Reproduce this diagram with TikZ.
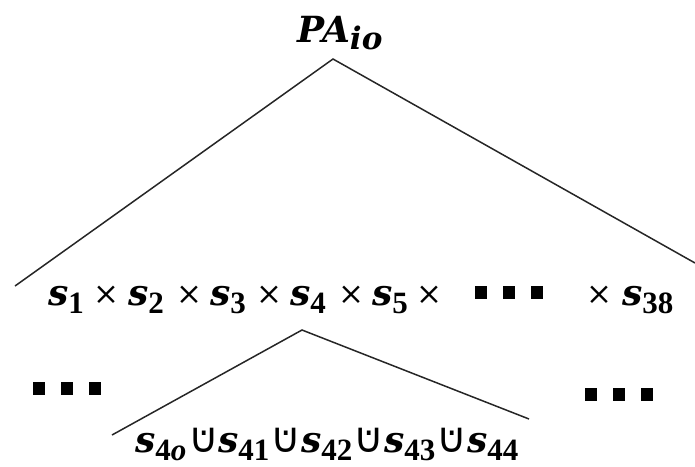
\documentclass[tikz,border=0pt]{standalone}
\usepackage{fontspec}
\setmainfont{DejaVu Serif}
\newfontfamily\cupfont{DejaVu Sans}
\newfontfamily\numfont{Liberation Serif}
\usetikzlibrary{positioning}

\newcommand{\bigsz}{\fontsize{36}{40}\selectfont}
\newcommand{\subsz}{\fontsize{31}{32}\selectfont}
\newcommand{\sv}[1]{\textbf{\textit{s}}\raisebox{-8pt}{\subsz\numfont\bfseries #1}}
\newcommand{\tms}{{\fontsize{31}{31}\selectfont ×}}
\newcommand{\dcup}{\ooalign{{\fontsize{42}{42}\cupfont ∪}\cr\hidewidth\raisebox{17pt}{\cupfont .}\hidewidth\cr}}
\newcommand{\sqbox}{\rule{12pt}{13pt}}
\newcommand{\sqdots}{\sqbox\hspace{16pt}\sqbox\hspace{16pt}\sqbox}

\begin{document}
\begin{tikzpicture}[x=1pt, y=-1pt,
    term/.style={inner sep=0pt, font=\bigsz, anchor=base west},
    dotrow/.style={inner sep=0pt, anchor=north west},
    branch/.style={line width=1.5pt, color=black!85}
]
\useasboundingbox (0,0) rectangle (695,466);

\node[term, anchor=base] (pa) at (340,42)
    {\textbf{\textit{PA}}\raisebox{-7pt}{\subsz\bfseries\itshape io}};

% product row
\foreach \i/\x in {1/48,2/128,3/210,4/290,5/372}
    \node[term] (s\i) at (\x,305) {\sv{\i}};
\foreach \x [count=\k] in {93,176,256,338,416,586}
    \node[term] (x\k) at (\x,304) {\tms};
\node[term] (s38) at (622,305) {\sv{38}};
\node[dotrow] (mdots) at (475,286) {\sqdots};

% union row
\node[term] (u0) at (135,452) {\sv{4\textit{o}}};
\foreach \j/\x in {1/218,2/301,3/384,4/467}
    \node[term] (u\j) at (\x,452) {\sv{4\j}};
\foreach \x [count=\k] in {204,286,369,452}
    \node[term, anchor=base] (c\k) at (\x,452) {\dcup};

\node[dotrow] (ldots) at (33,382) {\sqdots};
\node[dotrow] (rdots) at (585,388) {\sqdots};

% branches
\coordinate (pa-foot) at (333,59);
\coordinate (row-l) at (15,286);
\coordinate (row-r) at (695,263);
\coordinate (s4-foot) at (302,330);
\coordinate (sub-l) at (112,435);
\coordinate (sub-r) at (529,419);

\draw[branch] (row-l) -- (pa-foot) -- (row-r);
\draw[branch] (sub-l) -- (s4-foot) -- (sub-r);
\end{tikzpicture}
\end{document}
